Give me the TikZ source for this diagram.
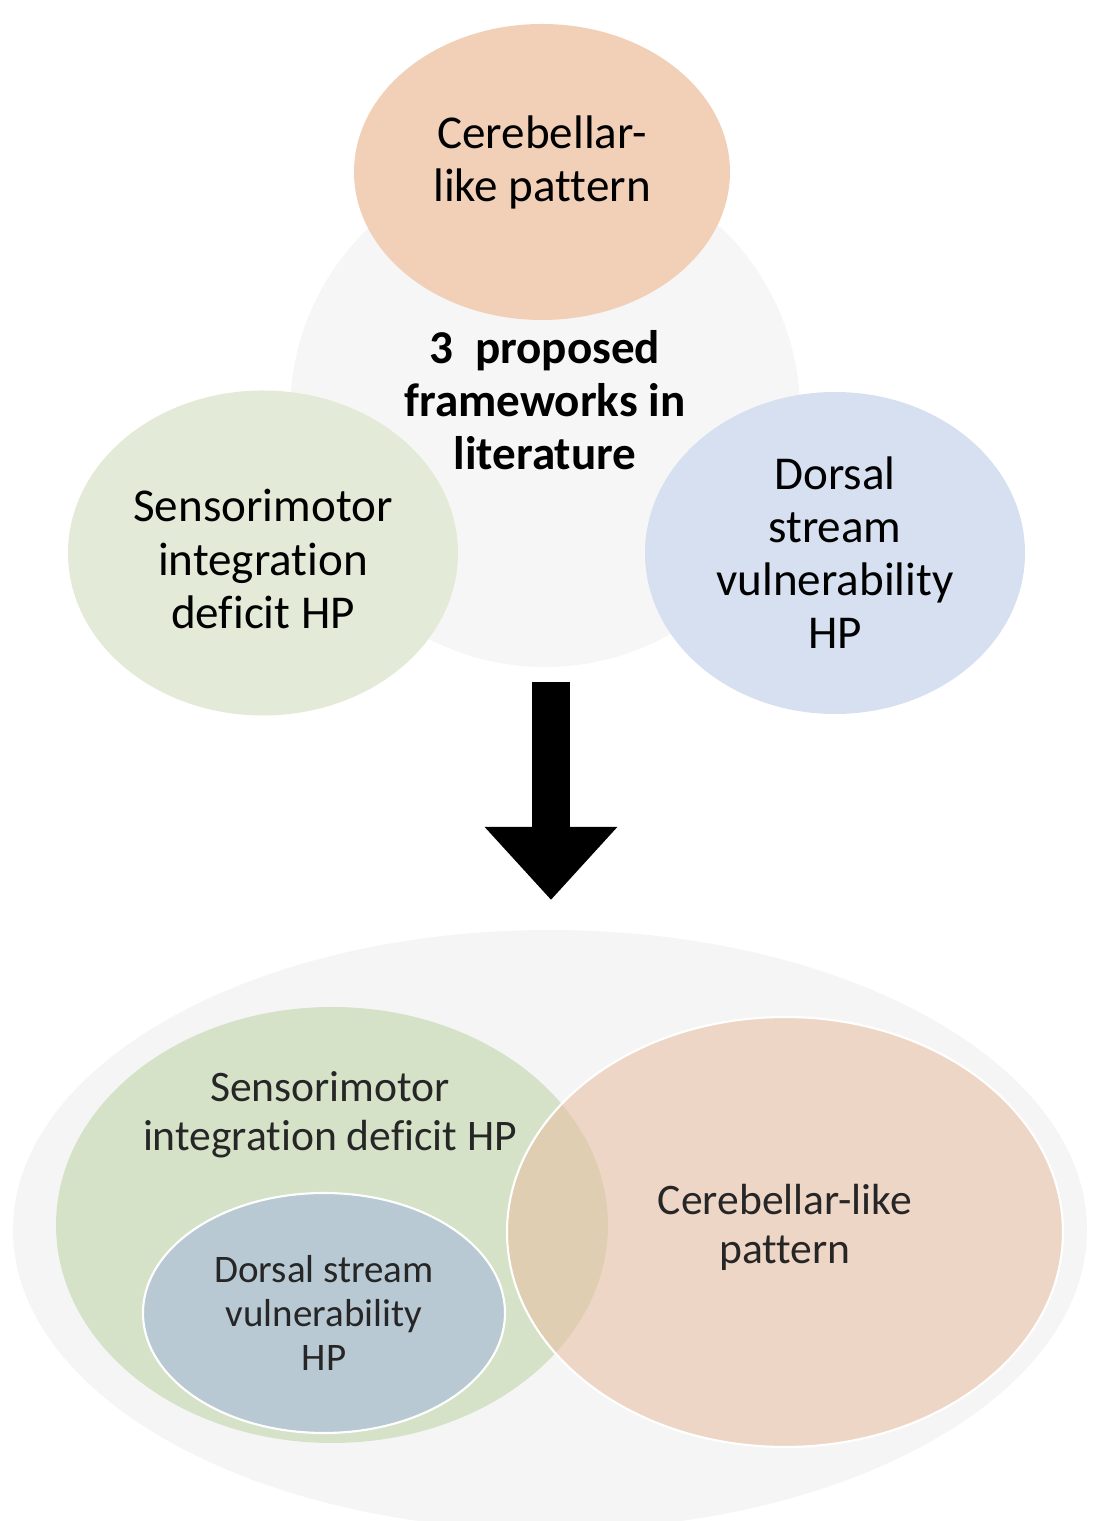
\documentclass[tikz,border=0pt]{standalone}
\usepackage{fontspec}
\setmainfont{Carlito}[Ligatures=NoCommon]
\usepackage{tikz}
\usetikzlibrary{arrows.meta,shapes.geometric}

\definecolor{hubgray}{RGB}{246,246,246}
\definecolor{outergray}{RGB}{245,245,246}
\definecolor{peachtop}{RGB}{242,208,183}
\definecolor{greentop}{RGB}{227,234,215}
\definecolor{bluetop}{RGB}{214,224,240}
\definecolor{greenbot}{RGB}{214,226,200}
\definecolor{peachbot}{RGB}{233,190,162}
\definecolor{bluebot}{RGB}{185,201,212}

\begin{document}
\begin{tikzpicture}[
  blob/.style={ellipse, inner sep=0pt, align=center},
  toptext/.style={font=\fontsize{13.4}{15.1}\selectfont, align=center},
  bottext/.style={font=\fontsize{12.4}{13.9}\selectfont, text=black!85, align=center},
]
\useasboundingbox (0,0) rectangle (10.96,15.21);

% three frameworks around the hub
\node[circle, fill=hubgray, minimum size=5.1cm, inner sep=0pt] (hub) at (5.45,11.09) {};
\node[toptext, font=\fontsize{13.4}{15.1}\selectfont\bfseries] (hublbl) at (5.45,11.21)
      {3~ proposed\\frameworks in\\literature};
\node[blob, fill=peachtop, minimum width=3.76cm, minimum height=2.96cm] (cbtop) at (5.42,13.49) {};
\node[toptext] (cbtoplbl) at ([yshift=1mm]cbtop) {Cerebellar-\\like pattern};
\node[blob, fill=greentop, minimum width=3.90cm, minimum height=3.25cm] (smtop) at (2.63,9.68) {};
\node[toptext] (smtoplbl) at ([yshift=-0.6mm]smtop) {Sensorimotor\\integration\\deficit HP};
\node[blob, toptext, fill=bluetop, minimum width=3.80cm, minimum height=3.22cm]
      (dstop) at (8.35,9.68) {Dorsal\\stream\\vulnerability\\HP};

\coordinate (arrtop) at (5.51,8.39);
\coordinate (arrtip) at (5.51,6.21);
\draw[line width=0.38cm, -{Triangle[width=1.28cm, length=0.73cm]}] (arrtop) -- (arrtip);

% nested view below
\node[blob, fill=outergray, minimum width=10.74cm, minimum height=6.0cm] (outer) at (5.50,2.91) {};
\node[blob, fill=greenbot, minimum width=5.52cm, minimum height=4.36cm] (smbot) at (3.32,2.96) {};
\node[bottext] (smlbl) at (3.30,4.06) {Sensorimotor\\integration deficit HP};
\node[blob, fill=bluebot, draw=white, line width=0.6pt, minimum width=3.62cm, minimum height=2.40cm,
      font=\fontsize{11.1}{12.5}\selectfont, text=black!85] (dsbot) at (3.24,2.08)
      {Dorsal stream\\vulnerability\\HP};
\node[blob, fill=peachbot, fill opacity=0.55, text opacity=1, draw=white, line width=0.6pt,
      bottext, minimum width=5.56cm, minimum height=4.30cm] (cbbot) at (7.85,2.89) {};
\node[bottext] (cblbl) at ([yshift=0.5mm]cbbot) {Cerebellar-like\\pattern};
\end{tikzpicture}
\end{document}
